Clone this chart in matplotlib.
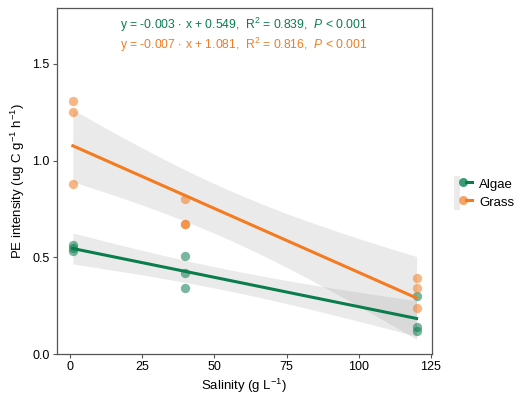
import numpy as np
import matplotlib
matplotlib.use('Agg')
import matplotlib.pyplot as plt
from matplotlib.lines import Line2D
from matplotlib.patches import Patch
from matplotlib.legend_handler import HandlerTuple

plt.rcParams['font.family'] = ['Liberation Sans', 'DejaVu Sans']
plt.rcParams['mathtext.fontset'] = 'custom'
plt.rcParams['mathtext.rm'] = 'Liberation Sans'
plt.rcParams['mathtext.it'] = 'Liberation Sans:italic'

# data
salinity = [1, 1, 1, 40, 40, 40, 120, 120, 120]
algae = [0.565, 0.548, 0.535, 0.507, 0.417, 0.341, 0.300, 0.138, 0.119]
grass = [1.310, 1.253, 0.879, 0.800, 0.672, 0.672, 0.395, 0.341, 0.236]
groups = ['Algae', 'Grass']
line_colors = ['#0a7d4d', '#f47b20']
point_colors = ['#3c9d74', '#f7a467']
eq_labels = [
    r'y = -0.003$\,\cdot\,$x + 0.549,  R$^2$ = 0.839,  $\it{P}$ < 0.001',
    r'y = -0.007$\,\cdot\,$x + 1.081,  R$^2$ = 0.816,  $\it{P}$ < 0.001',
]

T_975_DF7 = 2.365  # t quantile for 95% CI, n=9


def fit_with_ci(x, y, xs):
    x = np.asarray(x, float)
    y = np.asarray(y, float)
    slope, icpt = np.polyfit(x, y, 1)
    resid = y - (slope * x + icpt)
    n = len(x)
    s = np.sqrt(np.sum(resid ** 2) / (n - 2))
    sxx = np.sum((x - x.mean()) ** 2)
    yhat = slope * xs + icpt
    se = s * np.sqrt(1 / n + (xs - x.mean()) ** 2 / sxx)
    return yhat, yhat - T_975_DF7 * se, yhat + T_975_DF7 * se


fig = plt.figure(figsize=(5.15, 3.96), dpi=100)
ax = fig.add_axes([0.110, 0.106, 0.728, 0.874])

xs = np.linspace(min(salinity), max(salinity), 100)
handles = []
for name, vals, lc, pc in zip(groups, [algae, grass], line_colors, point_colors):
    yhat, lo, hi = fit_with_ci(salinity, vals, xs)
    ax.fill_between(xs, lo, hi, color='#999999', alpha=0.2, lw=0, zorder=1)
    ax.scatter(salinity, vals, s=45, color=lc, alpha=0.55, lw=0, zorder=2)
    ax.plot(xs, yhat, color=lc, lw=2.2, zorder=3)
    handles.append((Patch(facecolor='#ebebeb', edgecolor='none'),
                    Line2D([], [], ls='none', marker='o', ms=6.5,
                           mfc=pc, mec='none'),
                    Line2D([], [], color=lc, lw=2.2)))

for i, (txt, lc) in enumerate(zip(eq_labels, line_colors)):
    ax.text(60, 1.70 - 0.1 * i, txt, color=lc, fontsize=8.75,
            ha='center', va='center')

ax.set_xlim(-4.6, 125.2)
ax.set_ylim(0, 1.79)
ax.set_xticks([0, 25, 50, 75, 100, 125])
ax.set_yticks([0.0, 0.5, 1.0, 1.5])
ax.yaxis.set_major_formatter(matplotlib.ticker.FormatStrFormatter('%.1f'))
for sp in ax.spines.values():
    sp.set_color('#555555')
    sp.set_linewidth(0.9)
ax.tick_params(length=3, width=0.8, color='#555555', labelsize=9, labelcolor='black', pad=2)
ax.set_xlabel(r'Salinity (g L$^{-1}$)', fontsize=9.5, labelpad=3)
ax.set_ylabel(r'PE intensity (ug C g$^{-1}$ h$^{-1}$)', fontsize=9.5, labelpad=4)

fig.legend(handles, groups, handler_map={tuple: HandlerTuple(ndivide=None, pad=0)},
           loc='center left', bbox_to_anchor=(0.872, 0.513), frameon=False,
           fontsize=9.5, handlelength=1.3, handleheight=1.6, handletextpad=0.6,
           labelspacing=0.05, borderaxespad=0)

fig.savefig('out.png', dpi=100)
